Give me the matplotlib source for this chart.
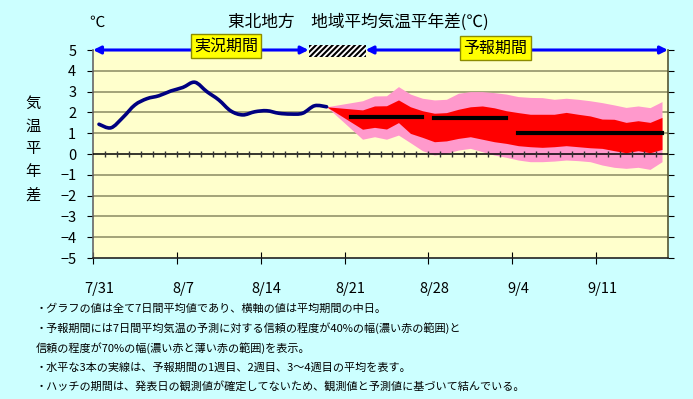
import numpy as np
import matplotlib
matplotlib.use("Agg")
import matplotlib.pyplot as plt
from matplotlib.patches import Rectangle, PathPatch
from matplotlib.path import Path

plt.rcParams['font.family'] = ['Noto Sans CJK JP', 'DejaVu Sans']
plt.rcParams['hatch.linewidth'] = 1.5

# days counted from 7/31, values sit at the middle of each day
date_ticks = [0, 7, 14, 21, 28, 35, 42]
date_labels = ["7/31", "8/7", "8/14", "8/21", "8/28", "9/4", "9/11"]

obs_day = list(range(20))
obs_val = [1.43, 1.26, 1.76, 2.36, 2.66, 2.80, 3.03, 3.20, 3.45, 3.00,
           2.60, 2.07, 1.88, 2.03, 2.08, 1.96, 1.92, 1.96, 2.32, 2.27]

fc_day = [19] + list(range(22, 48))
upper70 = [2.27, 2.56, 2.79, 2.80, 3.24, 2.88, 2.68, 2.60, 2.63, 2.92, 3.00, 3.00, 2.95,
           2.88, 2.76, 2.72, 2.71, 2.63, 2.68, 2.63, 2.56, 2.47, 2.36, 2.24, 2.31, 2.23, 2.52]
upper40 = [2.27, 2.12, 2.31, 2.32, 2.60, 2.27, 2.08, 1.96, 1.99, 2.15, 2.27, 2.31, 2.22,
           2.08, 1.99, 1.91, 1.91, 1.91, 2.00, 1.91, 1.83, 1.68, 1.67, 1.52, 1.60, 1.52, 1.76]
lower40 = [2.27, 1.19, 1.28, 1.20, 1.51, 0.99, 0.80, 0.59, 0.63, 0.75, 0.83, 0.71, 0.59,
           0.51, 0.40, 0.35, 0.32, 0.35, 0.40, 0.35, 0.30, 0.27, 0.16, 0.06, 0.16, 0.06, 0.22]
lower70 = [2.27, 0.71, 0.83, 0.71, 0.91, 0.54, 0.16, -0.05, 0.03, 0.19, 0.27, 0.11, -0.05,
           -0.16, -0.29, -0.37, -0.37, -0.34, -0.29, -0.32, -0.37, -0.53, -0.64, -0.69, -0.64, -0.74, -0.37]

week_start = [21, 28, 35]
week_end = [27, 34, 47]
week_mean = [1.80, 1.72, 1.00]

obs_period = (0, 18)
hatch_period = (18, 22.75)
fc_period = (22.75, 48)

notes = [
    "・グラフの値は全て7日間平均値であり、横軸の値は平均期間の中日。",
    "・予報期間には7日間平均気温の予測に対する信頼の程度が40%の幅(濃い赤の範囲)と",
    "信頼の程度が70%の幅(濃い赤と薄い赤の範囲)を表示。",
    "・水平な3本の実線は、予報期間の1週目、2週目、3～4週目の平均を表す。",
    "・ハッチの期間は、発表日の観測値が確定してないため、観測値と予測値に基づいて結んでいる。",
]


def smooth_path(x, y):
    # spreadsheet-style smoothed line: cubic bezier through every point
    p = np.column_stack([x, y]).astype(float)
    verts = [p[0]]
    codes = [Path.MOVETO]
    n = len(p)
    for i in range(n - 1):
        prev = p[i - 1] if i > 0 else p[i]
        nxt = p[i + 2] if i + 2 < n else p[i + 1]
        c1 = p[i] + (p[i + 1] - prev) / 6
        c2 = p[i + 1] - (nxt - p[i]) / 6
        verts += [c1, c2, p[i + 1]]
        codes += [Path.CURVE4] * 3
    return Path(verts, codes)


def main():
    fig = plt.figure(figsize=(6.93, 3.99), dpi=100, facecolor="#CCFFFF")
    ax = fig.add_axes([93 / 693, 1 - 258 / 399, 575 / 693, 208 / 399])
    ax.set_facecolor("#FFFFCC")
    ax.set_xlim(0, 48)
    ax.set_ylim(-5, 5)

    for y in range(-4, 5):
        if y == 0:
            continue
        ax.axhline(y, color="#9C9C72", lw=1.3, zorder=1)

    xf = np.array(fc_day) + 0.5
    ax.fill_between(xf, lower70, upper70, color="#FF99CC", lw=0, zorder=2)
    ax.fill_between(xf, lower40, upper40, color="#FF0000", lw=0, zorder=3)

    ax.axhline(0, color="black", lw=1.1, zorder=4)
    ax.vlines(np.arange(1, 48), -0.14, 0.14, color="#333333", lw=1, zorder=4)

    ax.add_patch(PathPatch(smooth_path(np.array(obs_day) + 0.5, obs_val),
                           fill=False, edgecolor="#000080", lw=2.6,
                           capstyle="round", joinstyle="round", zorder=5))

    for s, e, m in zip(week_start, week_end, week_mean):
        ax.plot([s + 0.5, e + 0.5], [m, m], color="black", lw=3, zorder=6)

    # period arrows along the top
    for a, b in [obs_period, fc_period]:
        ax.annotate("", xy=(a, 5), xytext=(b, 5), annotation_clip=False,
                    arrowprops=dict(arrowstyle="<|-|>", color="#0000FF", lw=2.2,
                                    shrinkA=0, shrinkB=0, mutation_scale=11))
    ax.add_patch(Rectangle((hatch_period[0], 4.65), hatch_period[1] - hatch_period[0], 0.6,
                           facecolor="white", edgecolor="black", hatch="//////",
                           lw=0, clip_on=False, zorder=7))
    box = dict(boxstyle="square,pad=0.2", fc="#FFFF00", ec="#8C8C00", lw=1)
    ax.text(11.1, 5.2, "実況期間", ha="center", va="center", fontsize=11.5,
            bbox=box, zorder=8)
    ax.text(33.6, 5.1, "予報期間", ha="center", va="center", fontsize=11.5,
            bbox=box, zorder=8)

    # ticks at the day boundary, labels centred on the day
    ax.set_xticks(date_ticks)
    ax.set_xticklabels([])
    ax.set_xticks(np.array(date_ticks) + 0.5, minor=True)
    ax.set_xticklabels(date_labels, minor=True, fontsize=10.5)
    ax.tick_params(axis="x", which="major", direction="inout", length=9, color="black")
    ax.tick_params(axis="x", which="minor", length=0, pad=17)

    ax.set_yticks(range(-5, 6))
    ax.set_yticklabels([str(v).replace("-", "\u2212") for v in range(-5, 6)], fontsize=10.5)
    ax.tick_params(axis="y", length=0, pad=8)
    ax.tick_params(axis="y", right=True, length=4, direction="out", labelright=False)

    ax.spines["top"].set_visible(False)
    ax.spines["left"].set_color("#666666")
    ax.spines["left"].set_linewidth(1.2)
    ax.spines["right"].set_color("#555533")
    ax.spines["right"].set_linewidth(1.2)
    ax.spines["bottom"].set_color("#222222")
    ax.spines["bottom"].set_linewidth(1.2)

    fig.text(97 / 693, 1 - 22 / 399, "℃", fontsize=11, ha="center", va="center")
    fig.text(358 / 693, 1 - 22 / 399, "東北地方　地域平均気温平年差(℃)",
             fontsize=12, ha="center", va="center")
    fig.text(33 / 693, 1 - 149 / 399, "気\n温\n平\n年\n差", fontsize=11,
             ha="center", va="center", linespacing=1.45)

    for k, line in enumerate(notes):
        fig.text(36 / 693, 1 - (309 + 19.5 * k) / 399, line, fontsize=8.0,
                 ha="left", va="center")

    fig.savefig("out.png", dpi=100, facecolor=fig.get_facecolor())


if __name__ == "__main__":
    main()
